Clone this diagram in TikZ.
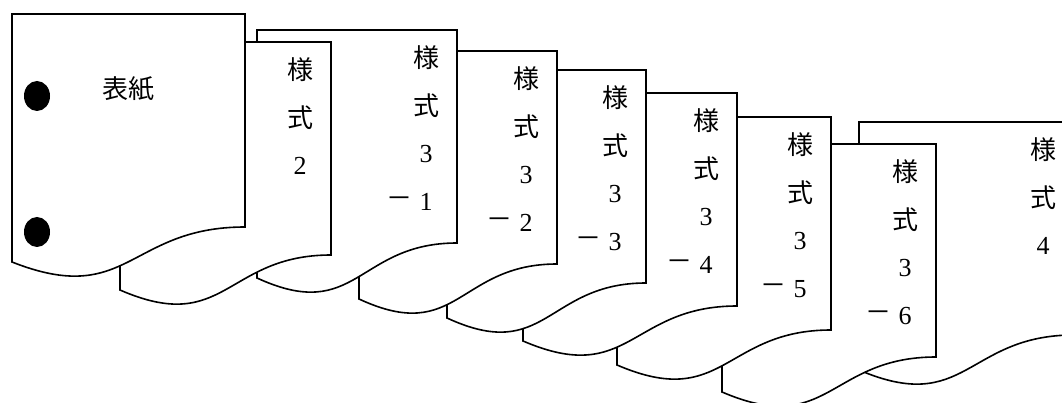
\documentclass[tikz,border=0pt]{standalone}
\usepackage{fontspec}
\newfontfamily\jp{Noto Sans CJK JP}
\newfontfamily\dgfont{Liberation Serif}
\tikzset{
  pagestyle/.style={draw=black,fill=white,line width=1.6pt,line join=miter},
  kj/.style={inner sep=0pt,font=\jp\fontsize{26}{30}\selectfont},
  dg/.style={inner sep=0pt,font=\dgfont\fontsize{26}{30}\selectfont},
  hole/.style={fill=black,draw=none}
}
\newcommand\drawpage[3]{% #1 left, #2 top, #3 right
  \path[pagestyle] (#1,#2) -- (#3,#2) -- (#3,#2+213)
    .. controls ({(#1+#3)/2},#2+213) and ({(#1+#3)/2},#2+294) .. (#1,#2+248) -- cycle;
}
\newcommand\coltext[4]{% #1 name, #2 right, #3 top, #4 digit
  \node[kj] (#1a) at (#2-31,#3+28) {様};
  \node[kj] (#1b) at (#2-31,#3+76) {式};
  \node[dg] (#1c) at (#2-31,#3+124) {#4};
}
\newcommand\subtext[4]{% #1 name, #2 right, #3 top, #4 sub digit
  \node[kj] (#1d) at (#2-58,#3+172) {－};
  \node[dg] (#1e) at (#2-31,#3+172) {#4};
}
\begin{document}
\begin{tikzpicture}[x=1pt,y=-1pt]
\clip (0,0) rectangle (1062,403);
% back to front
\drawpage{859}{122}{1074}
\coltext{pf}{1074}{122}{4}
\drawpage{722}{144}{936}
\coltext{psix}{936}{144}{3}
\subtext{psix}{936}{144}{6}
\drawpage{617}{117}{831}
\coltext{pfive}{831}{117}{3}
\subtext{pfive}{831}{117}{5}
\drawpage{523}{93}{737}
\coltext{pfour}{737}{93}{3}
\subtext{pfour}{737}{93}{4}
\drawpage{447}{70}{646}
\coltext{pthree}{646}{70}{3}
\subtext{pthree}{646}{70}{3}
\drawpage{359}{51}{557}
\coltext{ptwo}{557}{51}{3}
\subtext{ptwo}{557}{51}{2}
\drawpage{257}{30}{457}
\coltext{pone}{457}{30}{3}
\subtext{pone}{457}{30}{1}
\drawpage{120}{42}{331}
\coltext{pb}{331}{42}{2}
\drawpage{12}{14}{245}
\node[kj] (cover) at (128,89) {表紙};
\fill[hole] (37,96) ellipse [x radius=13,y radius=15];
\fill[hole] (37,232) ellipse [x radius=13,y radius=15];
\end{tikzpicture}
\end{document}
